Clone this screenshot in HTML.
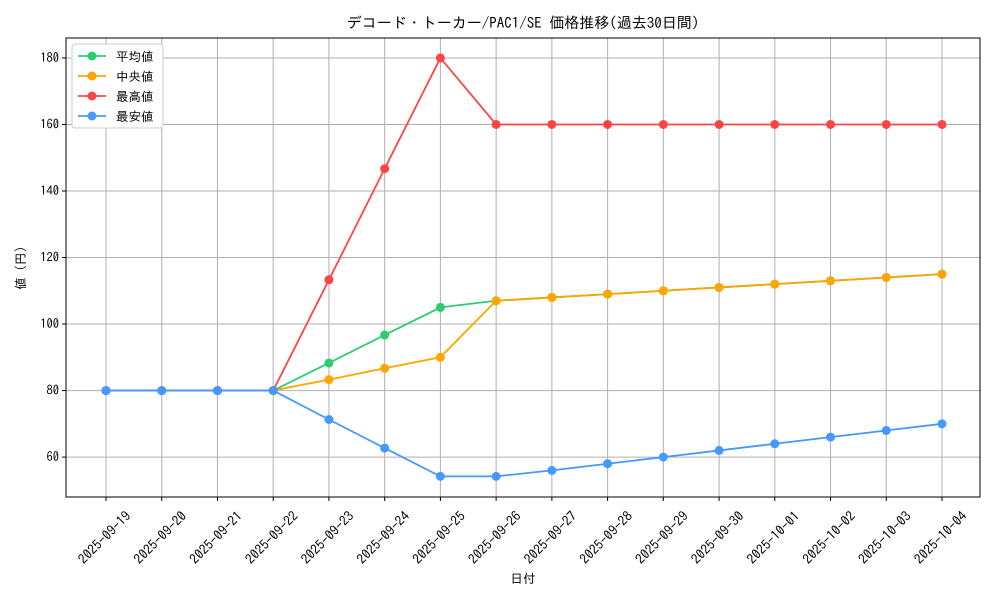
<!DOCTYPE html>
<html><head><meta charset="utf-8">
<style>
body{margin:0;background:#fff;}
svg text{font-family:"IPAGothic","Liberation Sans","Noto Sans CJK JP",sans-serif;fill:#000;}
</style></head>
<body>
<svg id="chart" width="1000" height="600" xmlns="http://www.w3.org/2000/svg"></svg>
<script>
const categories=["2025-09-19","2025-09-20","2025-09-21","2025-09-22","2025-09-23","2025-09-24","2025-09-25","2025-09-26","2025-09-27","2025-09-28","2025-09-29","2025-09-30","2025-10-01","2025-10-02","2025-10-03","2025-10-04"];
const avgValues=[80,80,80,80,88.3,96.7,105,107,108,109,110,111,112,113,114,115];
const medianValues=[80,80,80,80,83.3,86.7,90,107,108,109,110,111,112,113,114,115];
const maxValues=[80,80,80,80,113.3,146.7,180,160,160,160,160,160,160,160,160,160];
const minValues=[80,80,80,80,71.3,62.7,54.2,54.2,56,58,60,62,64,66,68,70];
const yTicks=[60,80,100,120,140,160,180];
const seriesNames=["平均値","中央値","最高値","最安値"];
const seriesColors=["#2ecc71","#ffa500","#ff4444","#4499ff"];

const svg=document.getElementById('chart');
const NS="http://www.w3.org/2000/svg";
const L=66,R=980,T=38,B=497;
const yMin=48,yMax=186;
const x=i=>106+i*(942-106)/(categories.length-1);
const y=v=>B-(v-yMin)/(yMax-yMin)*(B-T);
function el(t,a,p){const e=document.createElementNS(NS,t);for(const k in a)e.setAttribute(k,a[k]);(p||svg).appendChild(e);return e;}

const grid=el('g',{});


categories.forEach((c,i)=>{el('line',{x1:x(i),x2:x(i),y1:T,y2:B,stroke:'#b0b0b0','stroke-width':1},grid);});
yTicks.forEach(v=>{el('line',{x1:L,x2:R,y1:y(v),y2:y(v),stroke:'#b0b0b0','stroke-width':1},grid);});

const xa=el('g',{});


categories.forEach((c,i)=>{
  el('line',{x1:x(i),x2:x(i),y1:B,y2:B+4,stroke:'#000'},xa);
  const cx=x(i)-1, cy=538;
  const t=el('text',{x:cx,y:cy+4,'font-size':13.5,'text-anchor':'middle',transform:`rotate(-45 ${cx} ${cy})`},xa);
  t.textContent=c;
});
const ya=el('g',{});


yTicks.forEach(v=>{
  el('line',{x1:L-4,x2:L,y1:y(v),y2:y(v),stroke:'#000'},ya);
  const t=el('text',{x:L-7,y:y(v)+4,'font-size':12.5,'text-anchor':'end'},ya);t.textContent=v;
});

[avgValues,medianValues,maxValues,minValues].forEach((vals,s)=>{
  const g=el('g',{});
  
  
  el('polyline',{points:vals.map((v,i)=>x(i)+','+y(v)).join(' '),fill:'none',stroke:seriesColors[s],'stroke-width':1.8},g);
  vals.forEach((v,i)=>{const c=el('circle',{cx:x(i),cy:y(v),r:4.5,fill:seriesColors[s]},g);
    
    });
});

el('rect',{x:L,y:T,width:R-L,height:B-T,fill:'none',stroke:'#000','stroke-width':1});

const title=el('text',{x:523,y:28,'font-size':15,'text-anchor':'middle'});


title.textContent="デコード・トーカー/PAC1/SE 価格推移(過去30日間)";
const xt=el('text',{x:523,y:583,'font-size':12.5,'text-anchor':'middle'});


xt.textContent="日付";
const yt=el('text',{x:25,y:268,'font-size':12.5,'text-anchor':'middle',transform:'rotate(-90 25 268)'});


yt.textContent="値 (円)";

const lg=el('g',{});


el('rect',{x:72,y:44,width:91,height:84,fill:'#fff',stroke:'#ccc',rx:3},lg);
seriesNames.forEach((n,i)=>{
  const yy=56+i*20;
  const e=el('g',{},lg);
  
  
  el('line',{x1:78,x2:106,y1:yy,y2:yy,stroke:seriesColors[i],'stroke-width':1.8},e);
  el('circle',{cx:92,cy:yy,r:4.5,fill:seriesColors[i]},e);
  const t=el('text',{x:116,y:yy+5,'font-size':12.5},e);t.textContent=n;
});
</script>
</body></html>
